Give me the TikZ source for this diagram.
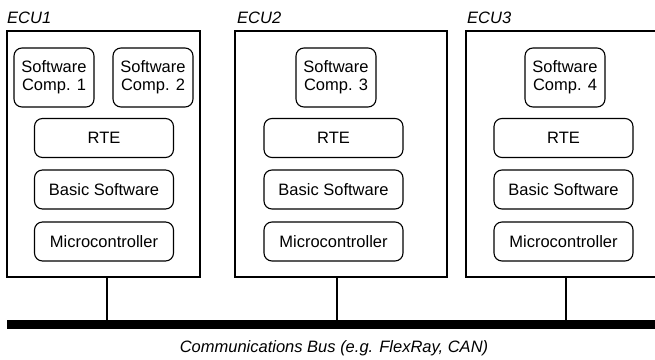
\documentclass[tikz,border=0pt]{standalone}
\usepackage{fontspec}
\setmainfont{Liberation Sans}
\begin{document}
\begin{tikzpicture}[x=1pt,y=-1pt,
  ecu/.style={draw, line width=2.3pt, minimum width=#1, minimum height=246pt, inner sep=0pt},
  part/.style={draw, line width=1.1pt, rounded corners=8pt, minimum width=#1, inner sep=0pt, align=center,
               font=\fontsize{16.5}{18}\selectfont},
  swc/.style={part=80pt, minimum height=59pt},
  layer/.style={part=139pt, minimum height=39pt},
  ecutitle/.style={anchor=base west, inner sep=0pt, font=\fontsize{16.5}{18}\selectfont\itshape},
  link/.style={line width=1.6pt},
  busline/.style={line width=9pt}]
\useasboundingbox (0,0) rectangle (655,359);
\clip (0,0) rectangle (655,359);

% ECU frames
\node[ecu=193pt] (ecu1) at (103.5,154) {};
\node[ecu=212pt] (ecu2) at (341,154) {};
\node[ecu=214pt] (ecu3) at (573,154) {};

% ECU titles
\node[ecutitle] (t1) at (7,23) {ECU1};
\node[ecutitle] (t2) at (237,23) {ECU2};
\node[ecutitle] (t3) at (467,23) {ECU3};

% ECU1 contents
\node[swc] (sw1) at (54,77.5) {Software\\Comp. 1};
\node[swc] (sw2) at (153,77.5) {Software\\Comp. 2};
\node[layer] (rte1) at (104,138) {RTE};
\node[layer] (bsw1) at (104,189.5) {Basic Software};
\node[layer] (mc1) at (104,241.5) {Microcontroller};

% ECU2 contents
\node[swc] (sw3) at (336,77.5) {Software\\Comp. 3};
\node[layer] (rte2) at (333.5,138) {RTE};
\node[layer] (bsw2) at (333.5,189.5) {Basic Software};
\node[layer] (mc2) at (333.5,241.5) {Microcontroller};

% ECU3 contents
\node[swc] (sw4) at (565,77.5) {Software\\Comp. 4};
\node[layer] (rte3) at (563.5,138) {RTE};
\node[layer] (bsw3) at (563.5,189.5) {Basic Software};
\node[layer] (mc3) at (563.5,241.5) {Microcontroller};

% communications bus
\coordinate (busL) at (7,324);
\coordinate (busR) at (660,324);
\draw[busline] (busL) -- (busR);
\node[anchor=base, inner sep=0pt, font=\fontsize{16.5}{18}\selectfont\itshape] (buslabel) at (334,352)
  {Communications Bus (e.g. FlexRay, CAN)};

% ECU taps onto the bus
\coordinate (e1) at (107,277);
\coordinate (e2) at (337,277);
\coordinate (e3) at (566,277);
\draw[link] (e1) -- (e1 |- busL);
\draw[link] (e2) -- (e2 |- busL);
\draw[link] (e3) -- (e3 |- busL);
\end{tikzpicture}
\end{document}
